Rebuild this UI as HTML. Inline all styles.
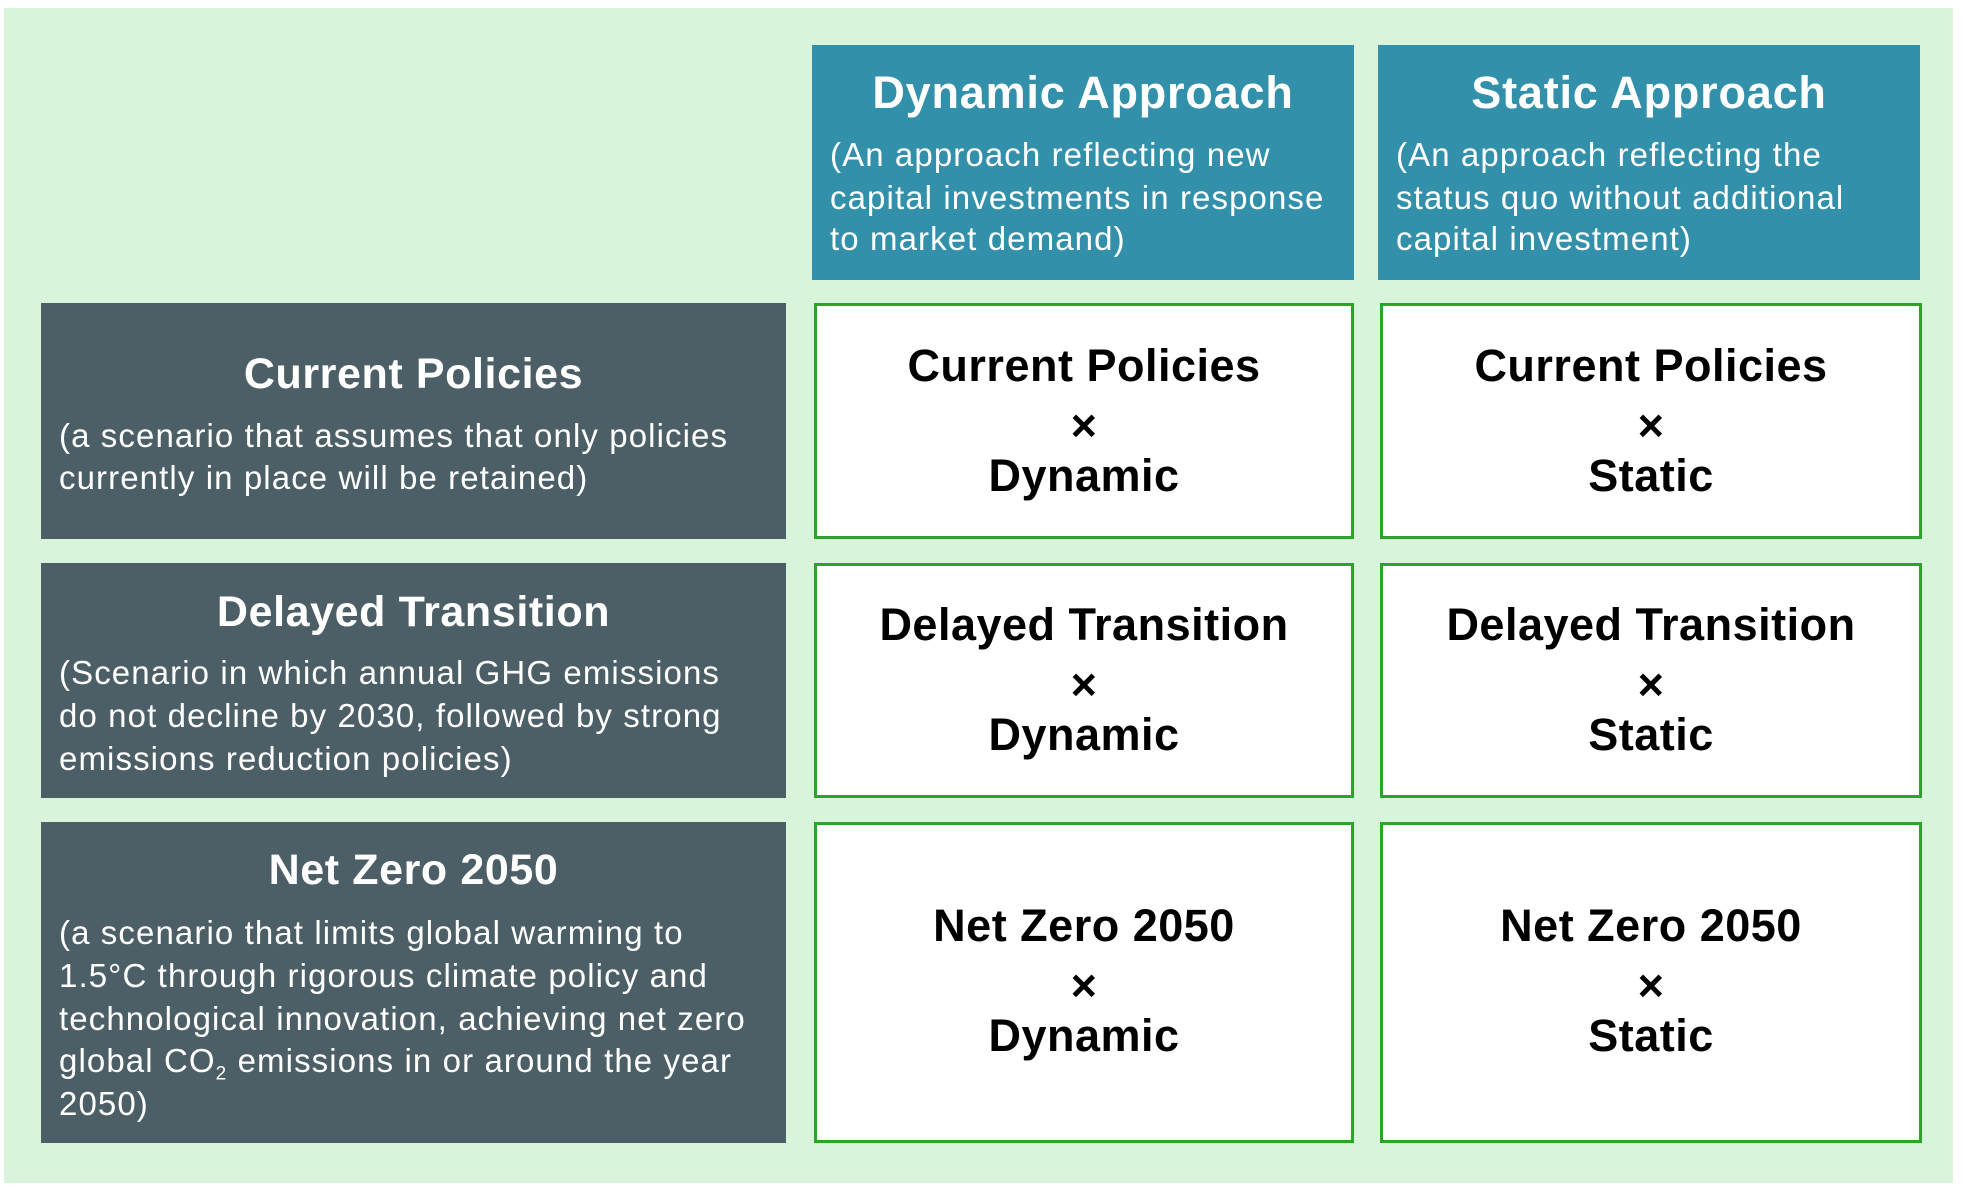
<!DOCTYPE html>
<html><head><meta charset="utf-8"><style>
html,body{margin:0;padding:0;background:#fff;}
body{width:1966px;height:1190px;position:relative;overflow:hidden;font-family:"Liberation Sans",Arial,sans-serif;}
.bg{position:absolute;left:4px;top:8px;width:1949px;height:1175px;background:#d8f5dc;}
.hd{position:absolute;background:#3390aa;top:45px;height:235px;width:542px;}
.lf{position:absolute;background:#4d5f66;left:41px;width:745px;}
.cl{position:absolute;background:#fff;border:3px solid #2aa52a;box-sizing:border-box;}
.t{position:absolute;white-space:nowrap;line-height:44px;}
.ti{font-weight:bold;font-size:43px;letter-spacing:0.6px;color:#fff;text-align:center;left:0;right:0;}
.hd .ti{font-size:45px;letter-spacing:0.8px;}
.sw{font-size:33px;letter-spacing:1.1px;color:#fff;}
.ce{font-weight:bold;font-size:45px;letter-spacing:0.5px;color:#000;text-align:center;left:0;right:0;}
</style></head><body>
<div class="bg"></div>

<div class="hd" style="left:812px">
 <div class="t ti" style="top:26px">Dynamic Approach</div>
 <div class="t sw" style="left:18px;top:88px">(An approach reflecting new</div>
 <div class="t sw" style="left:18px;top:131px">capital investments in response</div>
 <div class="t sw" style="left:18px;top:172px">to market demand)</div>
</div>
<div class="hd" style="left:1378px">
 <div class="t ti" style="top:26px">Static Approach</div>
 <div class="t sw" style="left:18px;top:88px">(An approach reflecting the</div>
 <div class="t sw" style="left:18px;top:131px">status quo without additional</div>
 <div class="t sw" style="left:18px;top:172px">capital investment)</div>
</div>

<div class="lf" style="top:303px;height:236px">
 <div class="t ti" style="top:49px">Current Policies</div>
 <div class="t sw" style="left:18px;top:111px">(a scenario that assumes that only policies</div>
 <div class="t sw" style="left:18px;top:153px">currently in place will be retained)</div>
</div>
<div class="lf" style="top:563px;height:235px">
 <div class="t ti" style="top:27px">Delayed Transition</div>
 <div class="t sw" style="left:18px;top:88px">(Scenario in which annual GHG emissions</div>
 <div class="t sw" style="left:18px;top:131px">do not decline by 2030, followed by strong</div>
 <div class="t sw" style="left:18px;top:174px">emissions reduction policies)</div>
</div>
<div class="lf" style="top:822px;height:321px">
 <div class="t ti" style="top:26px">Net Zero 2050</div>
 <div class="t sw" style="left:18px;top:89px">(a scenario that limits global warming to</div>
 <div class="t sw" style="left:18px;top:132px">1.5°C through rigorous climate policy and</div>
 <div class="t sw" style="left:18px;top:175px">technological innovation, achieving net zero</div>
 <div class="t sw" style="left:18px;top:217px">global CO<sub style="font-size:19px;line-height:0">2</sub> emissions in or around the year</div>
 <div class="t sw" style="left:18px;top:260px">2050)</div>
</div>

<div class="cl" style="left:814px;top:303px;width:540px;height:236px">
 <div class="t ce" style="top:38px">Current Policies</div>
 <div class="t ce" style="top:98px">×</div>
 <div class="t ce" style="top:148px">Dynamic</div>
</div>
<div class="cl" style="left:1380px;top:303px;width:542px;height:236px">
 <div class="t ce" style="top:38px">Current Policies</div>
 <div class="t ce" style="top:98px">×</div>
 <div class="t ce" style="top:148px">Static</div>
</div>
<div class="cl" style="left:814px;top:563px;width:540px;height:235px">
 <div class="t ce" style="top:37px">Delayed Transition</div>
 <div class="t ce" style="top:97px">×</div>
 <div class="t ce" style="top:147px">Dynamic</div>
</div>
<div class="cl" style="left:1380px;top:563px;width:542px;height:235px">
 <div class="t ce" style="top:37px">Delayed Transition</div>
 <div class="t ce" style="top:97px">×</div>
 <div class="t ce" style="top:147px">Static</div>
</div>
<div class="cl" style="left:814px;top:822px;width:540px;height:321px">
 <div class="t ce" style="top:79px">Net Zero 2050</div>
 <div class="t ce" style="top:139px">×</div>
 <div class="t ce" style="top:189px">Dynamic</div>
</div>
<div class="cl" style="left:1380px;top:822px;width:542px;height:321px">
 <div class="t ce" style="top:79px">Net Zero 2050</div>
 <div class="t ce" style="top:139px">×</div>
 <div class="t ce" style="top:189px">Static</div>
</div>
</body></html>
